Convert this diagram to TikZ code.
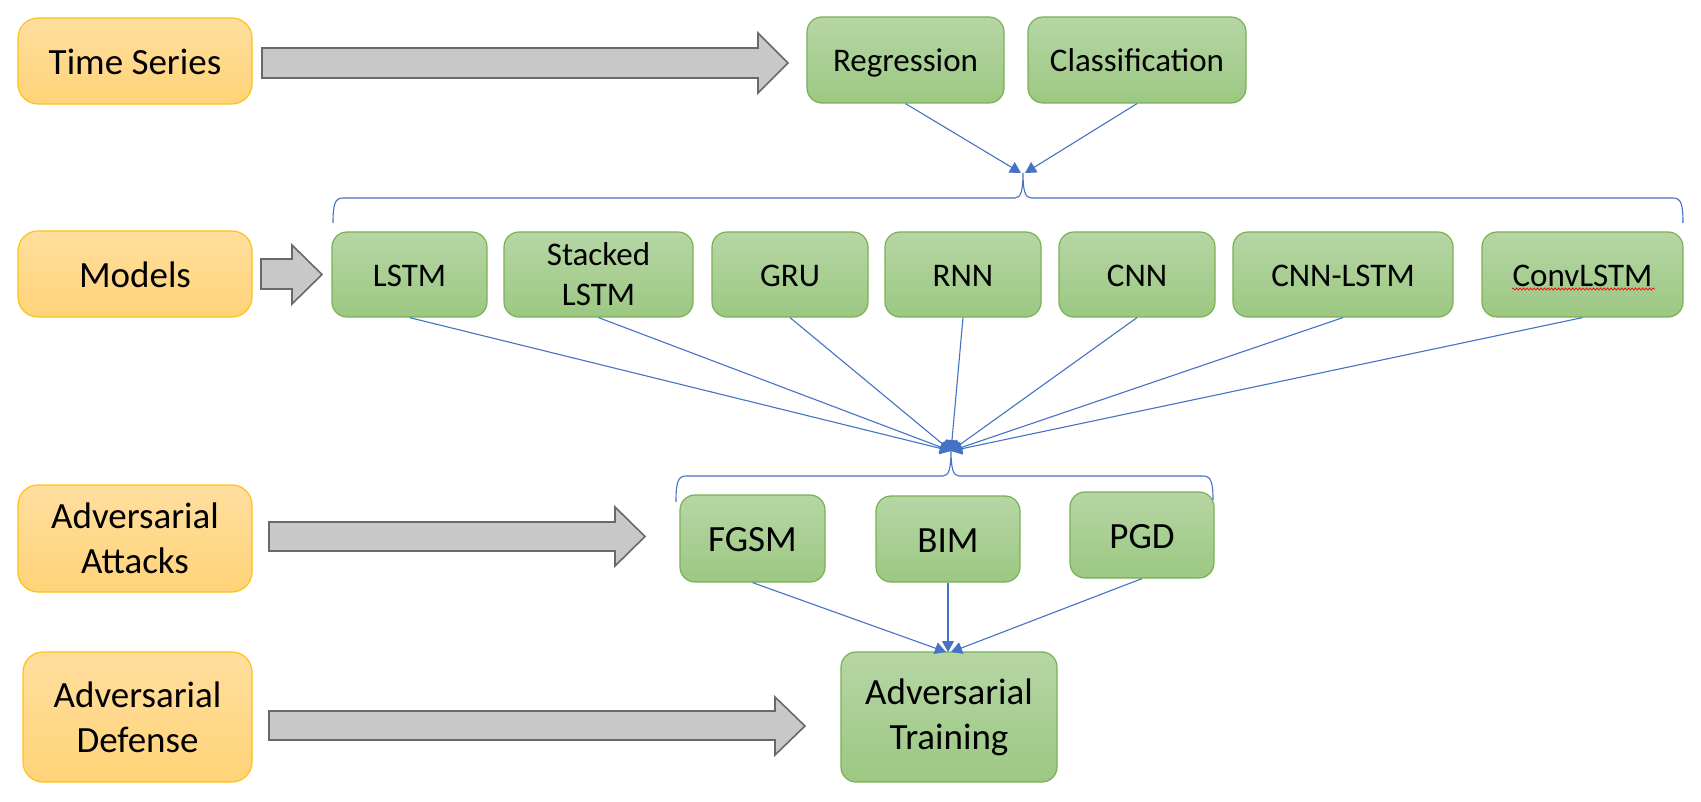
\documentclass[tikz,border=0pt]{standalone}
\usepackage{fontspec}
\setmainfont{Carlito}
\usetikzlibrary{arrows.meta,decorations.pathmorphing}
\definecolor{orTop}{RGB}{255,222,158}
\definecolor{orBot}{RGB}{255,211,120}
\definecolor{orLine}{RGB}{255,194,20}
\definecolor{grTop}{RGB}{182,214,165}
\definecolor{grBot}{RGB}{156,200,130}
\definecolor{grLine}{RGB}{122,176,84}
\definecolor{bkFill}{RGB}{200,200,200}
\definecolor{bkLine}{RGB}{105,105,105}
\definecolor{cnLine}{RGB}{68,114,196}
\tikzset{
  obox/.style={draw=orLine, line width=1.2pt, top color=orTop, bottom color=orBot,
    rounded corners=20pt, align=center, inner sep=0pt,
    font=\fontsize{37}{45}\selectfont},
  gbox/.style={draw=grLine, line width=1.2pt, top color=grTop, bottom color=grBot,
    rounded corners=15pt, align=center, inner sep=0pt,
    font=\fontsize{33}{40}\selectfont},
  gboxbig/.style={gbox, font=\fontsize{37}{45}\selectfont},
  onesmall/.style={text height=23.8pt, text depth=0pt},
  onebig/.style={text height=26.6pt, text depth=0pt},
  blockarrow/.style={draw=bkLine, line width=1.6pt, fill=bkFill, line join=miter},
  conn/.style={draw=cnLine, line width=1.1pt, -{Triangle[length=11pt,width=12pt]}},
  bracepath/.style={draw=cnLine, line width=1.1pt},
}
\begin{document}
\begin{tikzpicture}[x=1pt,y=-1pt]
\useasboundingbox (0,0) rectangle (1701,802);
% orange boxes
\node[obox, onebig, minimum width=234pt, minimum height=86pt] (ts) at (135,61) {Time Series};
\node[obox, onebig, minimum width=234pt, minimum height=86pt] (models) at (135,274) {Models};
\node[obox, minimum width=234pt, minimum height=107pt] (attacks) at (135,538.5) {Adversarial\\Attacks};
\node[obox, minimum width=229pt, minimum height=130pt] (defense) at (137.5,717) {Adversarial\\Defense};
% green boxes
\node[gbox, onesmall, minimum width=197pt, minimum height=86pt] (reg) at (905.5,60) {Regression};
\node[gbox, onesmall, minimum width=218pt, minimum height=86pt] (cls) at (1137,60) {Classification};
\node[gbox, onesmall, minimum width=155pt, minimum height=85pt] (lstm) at (409.5,274.5) {LSTM};
\node[gbox, minimum width=189pt, minimum height=85pt] (stacked) at (598.5,274.5) {Stacked\\LSTM};
\node[gbox, onesmall, minimum width=156pt, minimum height=85pt] (gru) at (790,274.5) {GRU};
\node[gbox, onesmall, minimum width=156pt, minimum height=85pt] (rnn) at (963,274.5) {RNN};
\node[gbox, onesmall, minimum width=156pt, minimum height=85pt] (cnn) at (1137,274.5) {CNN};
\node[gbox, onesmall, minimum width=220pt, minimum height=85pt] (cnnlstm) at (1343,274.5) {CNN-LSTM};
\node[gbox, onesmall, minimum width=201pt, minimum height=85pt] (convlstm) at (1582.5,274.5) {ConvLSTM};
\node[gboxbig, onebig, minimum width=145pt, minimum height=87pt] (fgsm) at (752.5,538.5) {FGSM};
\node[gboxbig, onebig, minimum width=144pt, minimum height=86pt] (bim) at (948,539) {BIM};
\node[gboxbig, onebig, minimum width=144pt, minimum height=86pt] (pgd) at (1142,535) {PGD};
\node[gboxbig, minimum width=216pt, minimum height=130pt] (train) at (949,717) {Adversarial\\Training};
% spell-check underline
\coordinate (wavyA) at (1512,289);
\coordinate (wavyB) at (1655,289);
\draw[red, line width=0.7pt, decorate, decoration={snake, amplitude=1.1pt, segment length=3.5pt}] (wavyA) -- (wavyB);
% block arrows
\draw[blockarrow] (262,48) -- (758,48) -- (758,33) -- (788,63) -- (758,93) -- (758,78) -- (262,78) -- cycle;
\draw[blockarrow] (261,259) -- (292,259) -- (292,245) -- (322,274.5) -- (292,304) -- (292,289) -- (261,289) -- cycle;
\draw[blockarrow] (269,522) -- (615,522) -- (615,507) -- (645,536.5) -- (615,566) -- (615,551) -- (269,551) -- cycle;
\draw[blockarrow] (269,711) -- (775,711) -- (775,697) -- (805,726) -- (775,755) -- (775,740) -- (269,740) -- cycle;
% braces
\draw[bracepath] (333,223) .. controls (333,204) and (335,198) .. (343,198) -- (1015,198)
  .. controls (1021,198) and (1023,190) .. (1023,173)
  .. controls (1023,190) and (1025,198) .. (1031,198) -- (1673,198)
  .. controls (1681,198) and (1683,204) .. (1683,223);
\draw[bracepath] (676,502) .. controls (676,482) and (678,476) .. (686,476) -- (943,476)
  .. controls (949,476) and (951,468) .. (951,450)
  .. controls (951,468) and (953,476) .. (959,476) -- (1203,476)
  .. controls (1211,476) and (1213,482) .. (1213,500);
% connector end points
\coordinate (topL) at (1021,173);
\coordinate (topR) at (1025,173);
\coordinate (midTip) at (951,451);
\coordinate (botL) at (946,652);
\coordinate (botM) at (948,652);
\coordinate (botR) at (951,652);
% connectors
\draw[conn] (reg.south) -- (topL);
\draw[conn] (cls.south) -- (topR);
\draw[conn] (lstm.south) -- (midTip);
\draw[conn] (stacked.south) -- (midTip);
\draw[conn] (gru.south) -- (midTip);
\draw[conn] (rnn.south) -- (midTip);
\draw[conn] (cnn.south) -- (midTip);
\draw[conn] (cnnlstm.south) -- (midTip);
\draw[conn] (convlstm.south) -- (midTip);
\draw[conn] (fgsm.south) -- (botL);
\draw[conn] (bim.south) -- (botM);
\draw[conn] (pgd.south) -- (botR);
\end{tikzpicture}
\end{document}
